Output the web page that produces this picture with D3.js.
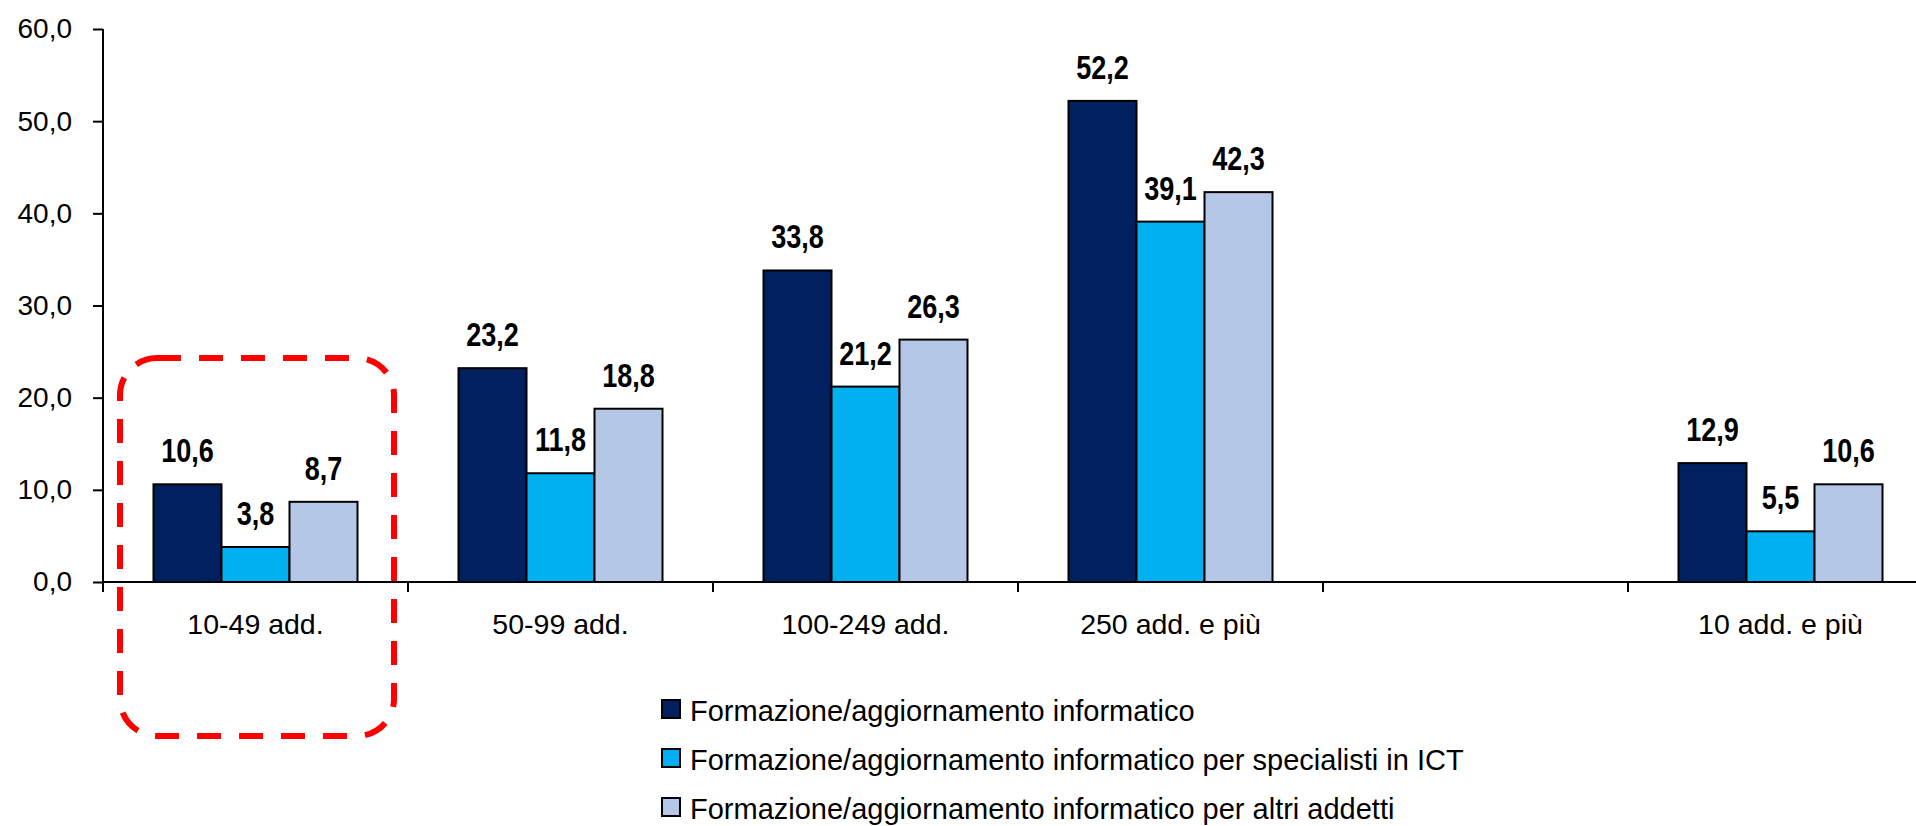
<!DOCTYPE html>
<html>
<head>
<meta charset="utf-8">
<script src="https://cdn.jsdelivr.net/npm/d3@7"></script>
<style>
  body { margin: 0; background: #fff; }
  svg { display: block; font-family: "Liberation Sans", Arial, sans-serif; }
</style>
</head>
<body>
<div id="chart"></div>
<script>
// categories (the empty one is the gap before the total)
var categories = ["10-49 add.", "50-99 add.", "100-249 add.", "250 add. e più", "", "10 add. e più"];

var seriesNames = [
  "Formazione/aggiornamento informatico",
  "Formazione/aggiornamento informatico per specialisti in ICT",
  "Formazione/aggiornamento informatico per altri addetti"
];

var informatico    = [10.6, 23.2, 33.8, 52.2, null, 12.9];
var specialistiICT = [3.8, 11.8, 21.2, 39.1, null, 5.5];
var altriAddetti   = [8.7, 18.8, 26.3, 42.3, null, 10.6];

var yTicks = [0, 10, 20, 30, 40, 50, 60];

var colors = ["#002060", "#00b0f0", "#b4c7e7"];

// dimensions
var W = 1916, H = 826;
var plotLeft = 103, bandW = 305;

var svg = d3.select("#chart")
  .append("svg")
    .attr("width", W)
    .attr("height", H);

var fmt = function(v) { return d3.format(".1f")(v).replace(".", ","); };

var series = [informatico, specialistiICT, altriAddetti];

var x0 = d3.scaleBand()
  .domain(d3.range(categories.length))
  .range([plotLeft, plotLeft + bandW * categories.length]);

var groupW = 204;
var x1 = d3.scaleBand()
  .domain(d3.range(series.length))
  .range([0, groupW]);
var groupOff = (x0.bandwidth() - groupW) / 2;

var y = d3.scaleLinear()
  .domain([0, 60])
  .range([582, 29]);

// Y axis
var yAxis = svg.append("g")
  .attr("transform", "translate(" + plotLeft + ",0)")
  .call(d3.axisLeft(y).tickValues(yTicks).tickSize(10).tickPadding(21).tickFormat(fmt));
yAxis.select(".domain").remove();
yAxis.selectAll(".tick line").attr("stroke", "#000").attr("stroke-width", 2);
yAxis.selectAll(".tick text")
  .attr("fill", "#000")
  .style("font-size", "28px")
  .style("font-family", "'Liberation Sans', Arial, sans-serif");
svg.append("line")
  .attr("x1", plotLeft).attr("x2", plotLeft)
  .attr("y1", y(60)).attr("y2", y(0) + 10)
  .attr("stroke", "#000").attr("stroke-width", 2);

// X axis line + boundary ticks
svg.append("line")
  .attr("x1", plotLeft).attr("x2", W)
  .attr("y1", y(0)).attr("y2", y(0))
  .attr("stroke", "#000").attr("stroke-width", 2);
svg.selectAll(".xtick")
  .data(d3.range(1, categories.length))
  .enter().append("line")
    .attr("x1", function(i) { return x0(i); })
    .attr("x2", function(i) { return x0(i); })
    .attr("y1", y(0))
    .attr("y2", y(0) + 10)
    .attr("stroke", "#000").attr("stroke-width", 2);
svg.selectAll(".xlabel")
  .data(categories)
  .enter().append("text")
    .attr("x", function(d, i) { return x0(i) + x0.bandwidth() / 2; })
    .attr("y", y(0) + 52)
    .attr("text-anchor", "middle")
    .style("font-size", "28.5px")
    .text(function(d) { return d; });

// bars
var groups = svg.selectAll(".grp")
  .data(categories)
  .enter().append("g")
    .attr("transform", function(d, i) { return "translate(" + (x0(i) + groupOff) + ",0)"; });

groups.each(function(c, ci) {
  var g = d3.select(this);
  var vals = series.map(function(s, si) { return {si: si, v: s[ci]}; })
    .filter(function(d) { return d.v != null; });
  g.selectAll("rect")
    .data(vals)
    .enter().append("rect")
      .attr("x", function(d) { return x1(d.si); })
      .attr("width", x1.bandwidth())
      .attr("y", function(d) { return y(d.v); })
      .attr("height", function(d) { return y(0) - y(d.v); })
      .attr("fill", function(d) { return colors[d.si]; })
      .attr("stroke", "#000")
      .attr("stroke-width", 2);
  // narrow bold labels: squeeze the bold face horizontally
  g.selectAll("text")
    .data(vals)
    .enter().append("text")
      .attr("transform", function(d) {
        return "translate(" + (x1(d.si) + x1.bandwidth() / 2) + "," + (y(d.v) - 22) + ") scale(0.82,1)";
      })
      .attr("text-anchor", "middle")
      .style("font-weight", "bold")
      .style("font-size", "33px")
      .text(function(d) { return fmt(d.v); });
});

// legend
var legend = svg.selectAll(".leg")
  .data(seriesNames)
  .enter().append("g")
    .attr("transform", function(d, i) { return "translate(661," + (700 + i * 49) + ")"; });
legend.append("rect")
  .attr("x", 1).attr("y", 0)
  .attr("width", 18).attr("height", 18)
  .attr("fill", function(d, i) { return colors[i]; })
  .attr("stroke", "#000")
  .attr("stroke-width", 2);
legend.append("text")
  .attr("x", 29)
  .attr("y", 20.5)
  .style("font-size", "29px")
  .text(function(d) { return d; });

// red dashed highlight round the first category
svg.append("rect")
  .attr("x", x0(0) + 17)
  .attr("y", y(24.3))
  .attr("width", x0.bandwidth() - 31)
  .attr("height", y(0) + 154 - y(24.3))
  .attr("rx", 37).attr("ry", 37)
  .attr("fill", "none")
  .attr("stroke", "#ff0000")
  .attr("stroke-width", 6)
  .attr("stroke-dasharray", "24,18");
</script>
</body>
</html>
